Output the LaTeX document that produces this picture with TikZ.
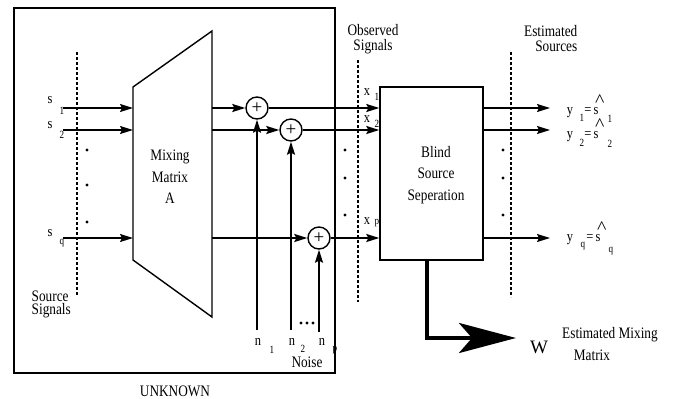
\documentclass[tikz,border=0pt]{standalone}
\usepackage{fontspec}
\usepackage{graphicx}
\setmainfont{Liberation Serif}[FakeStretch=0.83]
\newfontfamily\wfont{Liberation Serif}
\usetikzlibrary{arrows.meta}
\newcommand{\shat}{\rlap{\kern1.5pt\raisebox{7.5pt}{\scalebox{1.6}[1.2]{\textasciicircum}}}s}
\begin{document}
\begin{tikzpicture}[x=1pt,y=-1pt,line width=1.4pt,
  lbl/.style={inner sep=0,font=\fontsize{15}{15}\selectfont,anchor=base},
  sub/.style={inner sep=0,font=\fontsize{11}{11}\selectfont,anchor=base},
  txt/.style={inner sep=0,font=\fontsize{16}{21.5}\selectfont,align=center},
  arr/.style={-{Stealth[length=13pt,width=8pt,inset=2pt]}},
  dotline/.style={line width=1.2pt,dash pattern=on 2.5pt off 2.5pt},
  adder/.style={draw,circle,minimum size=22pt,inner sep=0,font=\wfont\fontsize{19}{19}\selectfont},
  dotmark/.style={fill,circle,inner sep=0,minimum size=3.4pt},
  bigarr/.style={line width=4pt,-{Stealth[length=57pt,width=30pt,inset=13pt]}}]
\useasboundingbox (0,0) rectangle (673,399);
\fill[white] (0,0) rectangle (673,399);

% unknown box
\draw (14,8) rectangle (335,373);
\node[txt] (unk) at (175,391) {UNKNOWN};

% mixing matrix trapezoid
\draw (133,87) -- (212,31) -- (212,317) -- (133,260) -- cycle;
\node[txt] (mix) at (170,177) {Mixing\\Matrix\\A};
\coordinate (m1in) at (133,108);
\coordinate (m2in) at (133,130);
\coordinate (m3in) at (133,238);
\coordinate (m1out) at (212,108);
\coordinate (m2out) at (212,130);
\coordinate (m3out) at (212,238);

% source signals
\coordinate (ss1) at (63,108);
\coordinate (ss2) at (63,130);
\coordinate (ss3) at (63,238);
\coordinate (sdt) at (77,52);
\coordinate (sdb) at (77,295);
\draw[dotline] (sdt) -- (sdb);
\draw[arr] (ss1) -- (m1in);
\draw[arr] (ss2) -- (m2in);
\draw[arr] (ss3) -- (m3in);
\node[lbl] (s1a) at (50,103.5) {s};
\node[sub] (s1b) at (62,114.5) {1};
\node[lbl] (s2a) at (50,128) {s};
\node[sub] (s2b) at (62,138.5) {2};
\node[lbl] (sqa) at (50,236.5) {s};
\node[sub] (sqb) at (62,244) {q};
\node[dotmark] (sd1) at (87,150) {};
\node[dotmark] (sd2) at (87,185) {};
\node[dotmark] (sd3) at (87,222) {};
\node[txt,align=left,anchor=west,font=\fontsize{16}{13}\selectfont] (srcl) at (31,304) {Source\\Signals};

% adders
\node[adder] (a1) at (257,108) {+};
\node[adder] (a2) at (291,130) {+};
\node[adder] (a3) at (319,238) {+};
\draw[arr] (m1out) -- (a1);
\draw[arr] (m2out) -- (a2);
\draw[arr] (m3out) -- (a3);

% noise
\coordinate (n1c) at (257,330);
\coordinate (n2c) at (291,330);
\coordinate (npc) at (319,332);
\draw[arr] (n1c) -- (a1);
\draw[arr] (n2c) -- (a2);
\draw[arr] (npc) -- (a3);
\node[lbl] (n1a) at (258,345) {n};
\node[sub] (n1b) at (272,353) {1};
\node[lbl] (n2a) at (292,345) {n};
\node[sub] (n2b) at (303,352) {2};
\node[lbl] (npa) at (322,345) {n};
\node[sub] (npb) at (335,351) {p};
\node[dotmark,minimum size=3.2pt] (nd1) at (301,323) {};
\node[dotmark,minimum size=3.2pt] (nd2) at (307,323) {};
\node[dotmark,minimum size=3.2pt] (nd3) at (313,323) {};
\node[txt] (noise) at (307,362) {Noise};

% BSS block
\node[draw,minimum width=103pt,minimum height=173pt,inner sep=0] (bss) at (431.5,173.5) {};
\node[txt] (bsst) at (436,175) {Blind\\Source\\Seperation};
\draw[arr] (a1) -- (a1 -| bss.west);
\draw[arr] (a2) -- (a2 -| bss.west);
\draw[arr] (a3) -- (a3 -| bss.west);

% observed signals
\coordinate (odt) at (358,60);
\coordinate (odb) at (358,302);
\draw[dotline] (odt) -- (odb);
\node[txt,font=\fontsize{16}{15}\selectfont] (obs) at (373,39) {Observed\\Signals};
\node[lbl] (x1a) at (367,95) {x};
\node[sub] (x1b) at (377,100) {1};
\node[lbl] (x2a) at (367,122) {x};
\node[sub] (x2b) at (377,127) {2};
\node[lbl] (xpa) at (367,224) {x};
\node[sub] (xpb) at (377,224) {p};
\node[dotmark] (od1) at (345,150) {};
\node[dotmark] (od2) at (345,178) {};
\node[dotmark] (od3) at (345,215) {};

% outputs
\coordinate (o1) at (550,108);
\coordinate (o2) at (550,130);
\coordinate (o3) at (550,238);
\draw[arr] (bss.east |- a1) -- (o1);
\draw[arr] (bss.east |- a2) -- (o2);
\draw[arr] (bss.east |- a3) -- (o3);
\coordinate (edt) at (511,52);
\coordinate (edb) at (511,297);
\draw[dotline] (edt) -- (edb);
\node[txt,align=right,anchor=east,font=\fontsize{16}{15}\selectfont] (est) at (578,39) {Estimated\\Sources};
\node[dotmark] (ed1) at (503,150) {};
\node[dotmark] (ed2) at (503,178) {};
\node[dotmark] (ed3) at (503,215) {};

% estimated source labels
\node[lbl] (y1a) at (570,114) {y};
\node[sub] (y1b) at (582,121) {1};
\node[lbl] (y1c) at (588,114) {=};
\node[lbl] (y1d) at (596,114) {\shat};
\node[sub] (y1e) at (610,122) {1};

\node[lbl] (y2a) at (570,138) {y};
\node[sub] (y2b) at (582,146) {2};
\node[lbl] (y2c) at (588,138) {=};
\node[lbl] (y2d) at (596,138) {\shat};
\node[sub] (y2e) at (610,147) {2};

\node[lbl] (yqa) at (570,241) {y};
\node[sub] (yqb) at (583,247) {q};
\node[lbl] (yqc) at (590,241) {=};
\node[lbl] (yqd) at (598,241) {\shat};
\node[sub] (yqe) at (611,252) {q};

% estimated mixing matrix
\coordinate (wtip) at (516,338);
\draw[bigarr] ([xshift=-4.5pt]bss.south) |- (wtip);
\node[inner sep=0,font=\wfont\fontsize{19}{19}\selectfont] (w) at (539,347) {W};
\node[txt] (emm1) at (610,335) {Estimated Mixing};
\node[txt] (emm2) at (592,355) {Matrix};
\end{tikzpicture}
\end{document}
